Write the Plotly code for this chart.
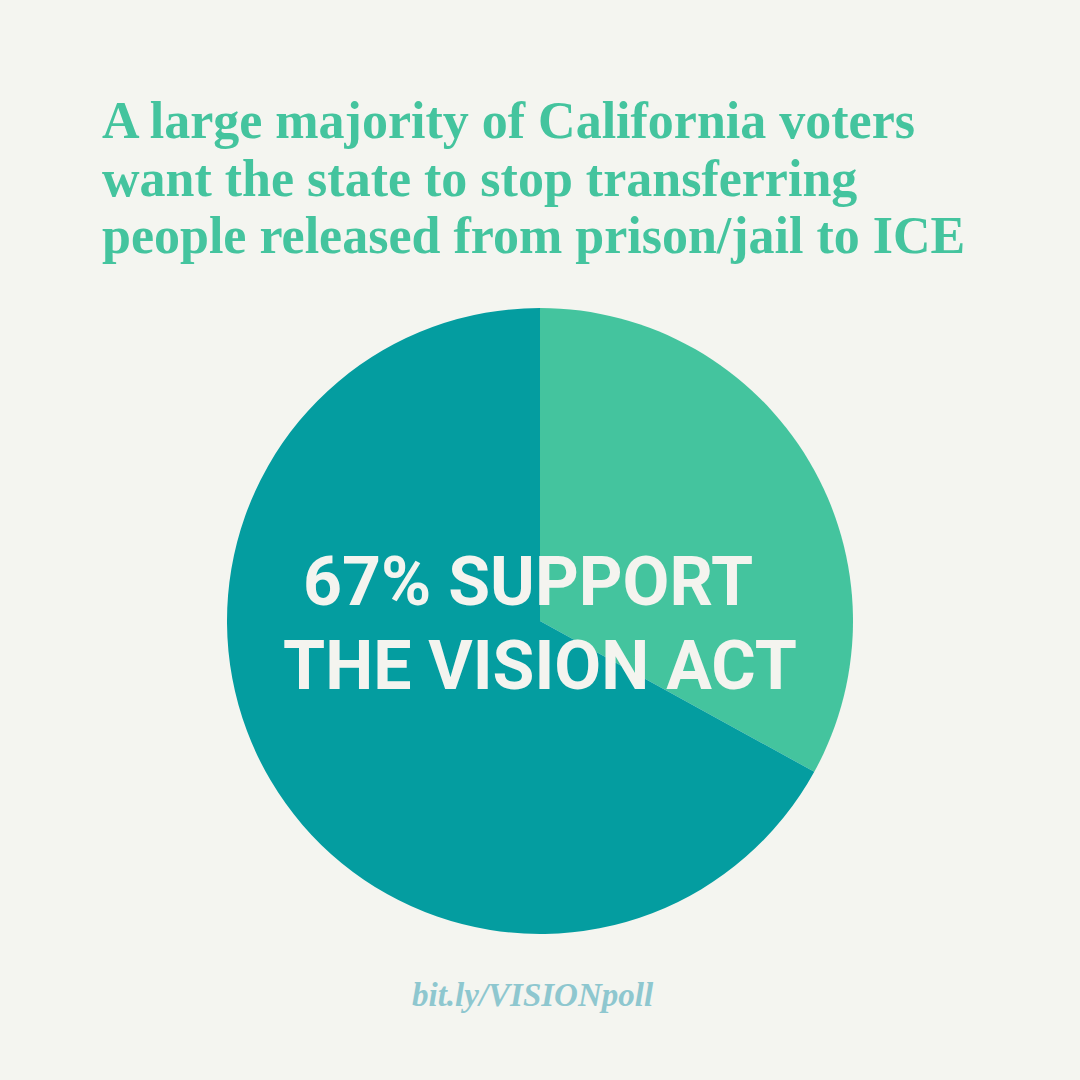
import plotly.graph_objects as go

labels = ["Oppose / other", "Support the VISION Act"]
values = [33, 67]
colors = ["#44C49E", "#049DA0"]

title_lines = [
    "A large majority of California voters",
    "want the state to stop transferring",
    "people released from prison/jail to ICE",
]
center_lines = ["67% SUPPORT", "THE VISION ACT"]
link_text = "bit.ly/VISIONpoll"

BG = "#F4F5F0"

fig = go.Figure(
    go.Pie(
        labels=labels,
        values=values,
        marker=dict(colors=colors, line=dict(width=0)),
        sort=False,
        direction="clockwise",
        rotation=0,
        textinfo="none",
        hoverinfo="label+percent",
        showlegend=False,
        domain=dict(x=[227 / 1080, 853 / 1080], y=[1 - 934 / 1080, 1 - 308 / 1080]),
    )
)

annotations = []
title_y = [151, 209, 266]
for txt, yb in zip(title_lines, title_y):
    annotations.append(dict(
        text="<b>" + txt + "</b>", x=100 / 1080, y=1 - yb / 1080,
        xref="paper", yref="paper", xanchor="left", yanchor="bottom",
        showarrow=False,
        font=dict(family="Liberation Serif", size=52, color="#44C49E"),
    ))

center_pos = [(528, 582), (540, 666)]
for txt, (xc, yc) in zip(center_lines, center_pos):
    annotations.append(dict(
        text="<b>" + txt + "</b>", x=xc / 1080, y=1 - yc / 1080,
        xref="paper", yref="paper", xanchor="center", yanchor="middle",
        showarrow=False,
        font=dict(family="Roboto", size=68, color="#F4F4EF"),
    ))

annotations.append(dict(
    text="<b><i>" + link_text + "</i></b>", x=533 / 1080, y=1 - 995 / 1080,
    xref="paper", yref="paper", xanchor="center", yanchor="middle",
    showarrow=False,
    font=dict(family="Liberation Serif", size=33, color="#8EC7CF"),
))

fig.update_layout(
    width=1080, height=1080,
    margin=dict(l=0, r=0, t=0, b=0),
    paper_bgcolor=BG, plot_bgcolor=BG,
    annotations=annotations,
)

fig.write_html("out.html", config={"displayModeBar": False},
               post_script="document.body.style.margin='0';")
